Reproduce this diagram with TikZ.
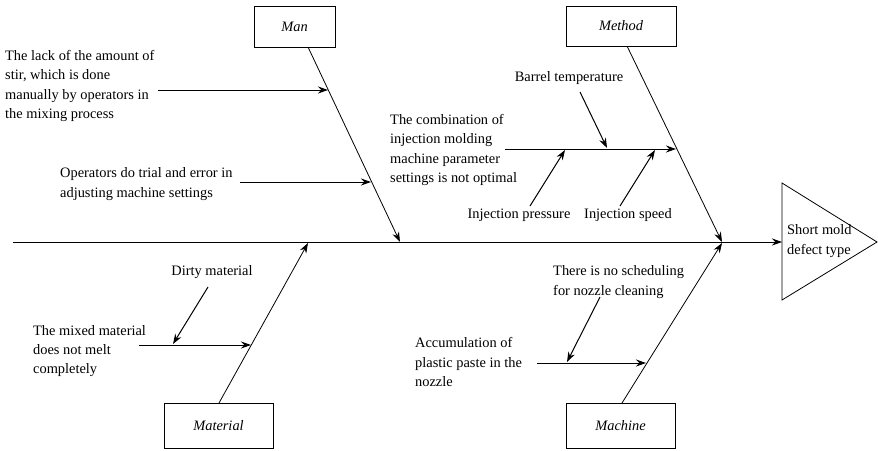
\documentclass[tikz,border=0pt]{standalone}
\usepackage{fontspec}
\setmainfont{Liberation Serif}
\usetikzlibrary{arrows.meta}
\begin{document}
\begin{tikzpicture}[x=1pt,y=-1pt,
  every node/.style={font=\fontsize{14.4}{19.2}\selectfont, inner sep=0pt},
  catbox/.style={draw, line width=0.8pt, font=\fontsize{14.4}{19.2}\selectfont\itshape},
  txt/.style={align=left, anchor=west},
  ctxt/.style={align=center},
  bone/.style={line width=0.8pt, -{Stealth[length=10pt,width=7pt]}},
  sub/.style={line width=1pt, -{Stealth[length=10pt,width=7pt]}}]
\useasboundingbox (0,0) rectangle (878,450);
% spine and effect
\coordinate (spineL) at (13,242);
\coordinate (spineR) at (782,242);
\draw[bone] (spineL) -- (spineR);
\coordinate (triT) at (782,183);
\coordinate (triP) at (877,242);
\coordinate (triB) at (782,300);
\draw[line width=0.8pt] (triT) -- (triP) -- (triB) -- cycle;
\node[txt] (effect) at (787,241) {Short mold\\defect type};
% category boxes
\node[catbox, minimum width=81pt, minimum height=41pt] (man) at (294.5,26.5) {Man};
\node[catbox, minimum width=110pt, minimum height=40pt] (method) at (621,26) {Method};
\node[catbox, minimum width=109pt, minimum height=45pt] (material) at (218.5,425.5) {Material};
\node[catbox, minimum width=109pt, minimum height=45pt] (machine) at (620.5,425.5) {Machine};
% bones
\coordinate (manA) at (308,47);   \coordinate (manB) at (400,242);
\coordinate (metA) at (627,46);   \coordinate (metB) at (722,242);
\coordinate (matA) at (219,403);  \coordinate (matB) at (308,243);
\coordinate (macA) at (622,403);  \coordinate (macB) at (722,243);
\draw[bone] (manA) -- (manB);
\draw[bone] (metA) -- (metB);
\draw[bone] (matA) -- (matB);
\draw[bone] (macA) -- (macB);
% Man causes
\node[txt] (stir) at (5,86) {The lack of the amount of\\stir, which is done\\manually by operators in\\the mixing process};
\coordinate (stirS) at (158,90); \coordinate (stirE) at (328,90);
\draw[sub] (stirS) -- (stirE);
\node[txt] (trial) at (60,184) {Operators do trial and error in\\adjusting machine settings};
\coordinate (trialS) at (240,182); \coordinate (trialE) at (371,182);
\draw[sub] (trialS) -- (trialE);
% Method causes
\node[txt] (comb) at (390,150) {The combination of\\injection molding\\machine parameter\\settings is not optimal};
\coordinate (combS) at (505,149); \coordinate (combE) at (676,149);
\draw[sub] (combS) -- (combE);
\node[ctxt] (barrel) at (569,78) {Barrel temperature};
\coordinate (barS) at (580,92); \coordinate (barE) at (607,148);
\draw[sub] (barS) -- (barE);
\node[ctxt] (press) at (519,215) {Injection pressure};
\coordinate (presS) at (530,206); \coordinate (presE) at (565,150);
\draw[sub] (presS) -- (presE);
\node[ctxt] (speed) at (628,215) {Injection speed};
\coordinate (spdS) at (620,206); \coordinate (spdE) at (655,150);
\draw[sub] (spdS) -- (spdE);
% Material causes
\node[txt] (mixed) at (33,351) {The mixed material\\does not melt\\completely};
\coordinate (mixS) at (139,345); \coordinate (mixE) at (251,345);
\draw[sub] (mixS) -- (mixE);
\node[ctxt] (dirty) at (212,272) {Dirty material};
\coordinate (dirS) at (208,287); \coordinate (dirE) at (173,344);
\draw[sub] (dirS) -- (dirE);
% Machine causes
\node[txt] (accum) at (415,362) {Accumulation of\\plastic paste in the\\nozzle};
\coordinate (accS) at (537,363); \coordinate (accE) at (646,363);
\draw[sub] (accS) -- (accE);
\node[txt] (sched) at (553,282) {There is no scheduling\\for nozzle cleaning};
\coordinate (schS) at (600,297); \coordinate (schE) at (567,362);
\draw[sub] (schS) -- (schE);
\end{tikzpicture}
\end{document}
